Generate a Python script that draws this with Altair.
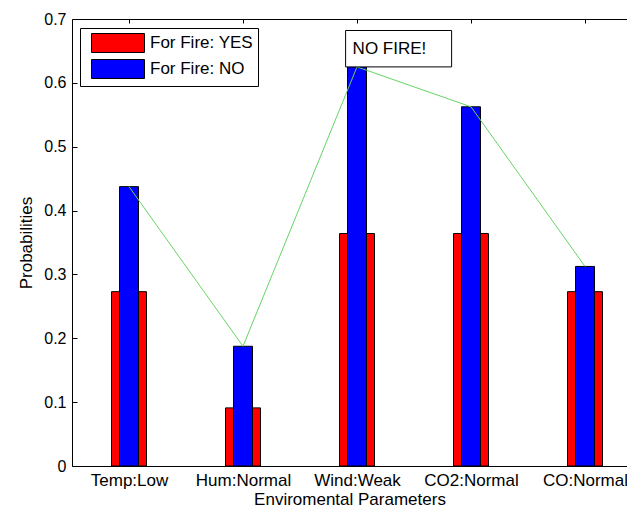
import altair as alt
import pandas as pd

categories = ["Temp:Low", "Hum:Normal", "Wind:Weak", "CO2:Normal", "CO:Normal"]
fire_yes = [0.273, 0.091, 0.364, 0.364, 0.273]
fire_no = [0.4375, 0.1875, 0.625, 0.5625, 0.3125]
series_names = ["For Fire: YES", "For Fire: NO"]
series_colors = ["#ff0000", "#0000ff"]
y_ticks = [0, 0.1, 0.2, 0.3, 0.4, 0.5, 0.6, 0.7]

# annotation box ("NO FIRE!")
ann_text = ["NO FIRE!"]
ann_x0 = [2.9]
ann_x1 = [3.83]
ann_y0 = [0.625]
ann_y1 = [0.682]

idx = list(range(1, len(categories) + 1))
rows = []
for i, c, a, b in zip(idx, categories, fire_yes, fire_no):
    rows.append({"pos": i, "cat": c, "series": series_names[0], "value": a})
    rows.append({"pos": i, "cat": c, "series": series_names[1], "value": b})
df = pd.DataFrame(rows)
df_no = pd.DataFrame({"pos": idx, "cat": categories, "value": fire_no})
ann = pd.DataFrame({"t": ann_text, "x0": ann_x0, "x1": ann_x1, "y0": ann_y0, "y1": ann_y1,
                    "ym": [(a + b) / 2 for a, b in zip(ann_y0, ann_y1)]})

W, H = 555, 447
XDOM = [0.5, 0.5 + W / 114.0]
YDOM = [0, 0.7]
FONT = "Liberation Sans"
FS = 17

label_expr = "[" + ",".join("'%s'" % c for c in categories) + "][datum.value - 1]"

xs = alt.Scale(domain=XDOM, nice=False, zero=False, padding=0)
ys = alt.Scale(domain=YDOM, nice=False, zero=False, padding=0)

x_main = alt.X("pos:Q", scale=xs,
               axis=alt.Axis(values=idx, labelExpr=label_expr, title="Enviromental Parameters",
                             ticks=False, grid=False, domain=True, domainColor="black",
                             labelPadding=6, titlePadding=3, labelFontSize=FS, titleFontSize=FS,
                             labelColor="black", titleColor="black", titleFontWeight="normal",
                             labelFont=FONT, titleFont=FONT))
y_main = alt.Y("value:Q", scale=ys,
               axis=alt.Axis(values=y_ticks, format=".1~f", title="Probabilities",
                             ticks=False, grid=False, domain=True, domainColor="black",
                             labelPadding=6, titlePadding=8, labelFontSize=16, titleFontSize=FS,
                             labelColor="black", titleColor="black", titleFontWeight="normal",
                             labelFont=FONT, titleFont=FONT))

color = alt.Color("series:N",
                  scale=alt.Scale(domain=series_names, range=series_colors),
                  legend=alt.Legend(title=None, orient="none", legendX=8, legendY=9,
                                    symbolType="M-0.37,-1H5.21V1H-0.37Z", symbolSize=361,
                                    symbolStrokeColor="black", symbolStrokeWidth=1,
                                    labelFontSize=FS, labelFont=FONT, labelColor="black",
                                    labelOffset=45, rowPadding=2,
                                    fillColor="white", strokeColor="black", padding=5))

red = alt.Chart(df).transform_filter(alt.datum.series == series_names[0]).mark_bar(
    size=35, stroke="black", strokeWidth=1).encode(x=x_main, y=y_main, color=color)

blue = alt.Chart(df).transform_filter(alt.datum.series == series_names[1]).mark_bar(
    size=19, stroke="black", strokeWidth=1).encode(
    x=alt.X("pos:Q", scale=xs, axis=None), y=alt.Y("value:Q", scale=ys, axis=None), color=color)

line = alt.Chart(df_no).mark_line(color="#66d466", strokeWidth=1).encode(
    x=alt.X("pos:Q", scale=xs, axis=None), y=alt.Y("value:Q", scale=ys, axis=None))

box = alt.Chart(ann).mark_rect(fill="white", stroke="black", strokeWidth=1).encode(
    x=alt.X("x0:Q", scale=xs, axis=None), x2="x1:Q",
    y=alt.Y("y0:Q", scale=ys, axis=None), y2="y1:Q")

txt = alt.Chart(ann).mark_text(align="left", baseline="middle", dx=7, fontSize=FS,
                               font=FONT, color="black").encode(
    x=alt.X("x0:Q", scale=xs, axis=None), y=alt.Y("ym:Q", scale=ys, axis=None), text="t:N")

# inward tick marks (top and left) and top frame line
ticks_layer = alt.Chart(df_no).mark_point(opacity=0).encode(
    x=alt.X("pos:Q", scale=xs,
            axis=alt.Axis(orient="top", values=idx, labels=False, domain=False, ticks=True,
                          tickSize=4, tickColor="black", offset=-4, grid=False, title=None)),
    y=alt.Y("value:Q", scale=ys,
            axis=alt.Axis(orient="left", values=y_ticks, labels=False, domain=False, ticks=True,
                          tickSize=5, tickColor="black", offset=-5, grid=False, title=None)))

frame_layer = alt.Chart(df_no).mark_point(opacity=0).encode(
    x=alt.X("pos:Q", scale=xs,
            axis=alt.Axis(orient="top", labels=False, domain=True, domainColor="black",
                          ticks=False, grid=False, title=None)),
    y=alt.Y("value:Q", scale=ys, axis=None))

chart = alt.layer(red, blue, line, box, txt, ticks_layer, frame_layer).resolve_scale(
    x="independent", y="independent"
).properties(
    width=W, height=H,
    autosize=alt.AutoSizeParams(type="none"),
    padding={"left": 64, "top": 11, "right": 0, "bottom": 41},
    background="white",
).configure_view(stroke=None)

chart.save("out.html", embed_options={"renderer": "svg", "actions": False})
